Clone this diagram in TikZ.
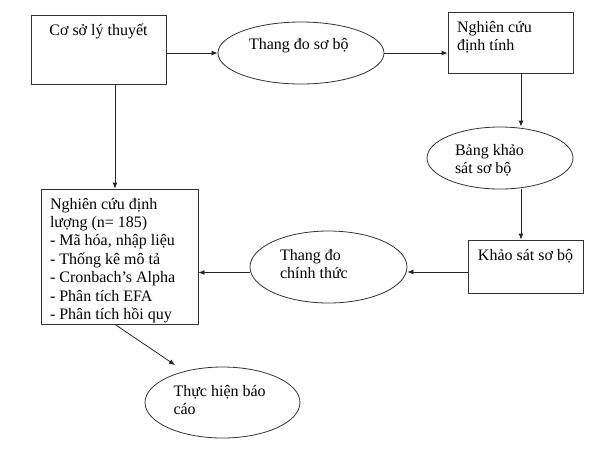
\documentclass[tikz,border=0pt]{standalone}
\usepackage{fontspec}
\setmainfont{Liberation Serif}
\usepackage{tikz}
\usetikzlibrary{shapes.geometric,arrows.meta}

\begin{document}
\begin{tikzpicture}[x=1pt,y=-1pt,>={Latex[length=6pt,width=5pt]},
    every node/.style={font=\fontsize{16}{18.4}\selectfont},
    box/.style={draw=black!80,line width=0.8pt,rectangle,inner sep=9pt},
    ell/.style={draw=black!80,line width=0.8pt,ellipse,inner sep=0pt},
    link/.style={->,draw=black!85,line width=0.8pt}]
\useasboundingbox (0,0) rectangle (596,456);
% boxes and ellipses
\node[box] (coso) at (98.5,49.5) {\parbox[c][51pt][t]{117pt}{\centering Cơ sở lý thuyết}};
\node[ell,minimum width=166pt,minimum height=62pt] (thangdo) at (301,53) {\parbox[c][30pt][t]{104pt}{Thang đo sơ bộ}};
\node[box] (dinhtinh) at (510.5,42.5) {\parbox[c][43pt][t]{107pt}{Nghiên cứu\\định tính}};
\node[ell,minimum width=146pt,minimum height=62pt] (bangks) at (500,158) {\parbox[c][28pt][t]{90pt}{Bảng khảo\\sát sơ bộ}};
\node[box] (khaosat) at (525.5,266.5) {\parbox[c][35pt][t]{97pt}{\centering Khảo sát sơ bộ}};
\node[ell,minimum width=157pt,minimum height=72pt] (chinhthuc) at (328.5,267) {\parbox[c][36pt][t]{97pt}{Thang đo\\chính thức}};
\node[box] (dinhluong) at (119.5,256.5) {\parbox[c][117pt][t]{139pt}{Nghiên cứu định\\lượng (n= 185)\\- Mã hóa, nhập liệu\\- Thống kê mô tả\\- Cronbach’s Alpha\\- Phân tích EFA\\- Phân tích hồi quy}};
\node[ell,minimum width=155pt,minimum height=71pt] (baocao) at (222.5,402.5) {\parbox[c][35pt][t]{98pt}{Thực hiện báo\\cáo}};
% connectors
\coordinate (d1) at ([xshift=10.5pt]dinhtinh.south);
\coordinate (k1) at ([yshift=-5.5pt]khaosat.west);
\coordinate (c1) at ([yshift=-5.5pt]chinhthuc.west);
\coordinate (s1) at ([xshift=16.5pt]coso.south);
\coordinate (l1) at ([xshift=-4.5pt]dinhluong.south);
\coordinate (b1) at ([xshift=-47.5pt,yshift=37.5pt]baocao.center);
\draw[link] (coso.east |- thangdo.west) -- (thangdo.west);
\draw[link] (thangdo.east) -- (thangdo.east -| dinhtinh.west);
\draw[link] (d1) -- (d1 |- bangks.north);
\draw[link] (d1 |- bangks.south) -- (d1 |- khaosat.north);
\draw[link] (k1) -- (k1 -| chinhthuc.east);
\draw[link] (c1) -- (c1 -| dinhluong.east);
\draw[link] (s1) -- (s1 |- dinhluong.north);
\draw[link] (l1) -- (b1);
\end{tikzpicture}
\end{document}
